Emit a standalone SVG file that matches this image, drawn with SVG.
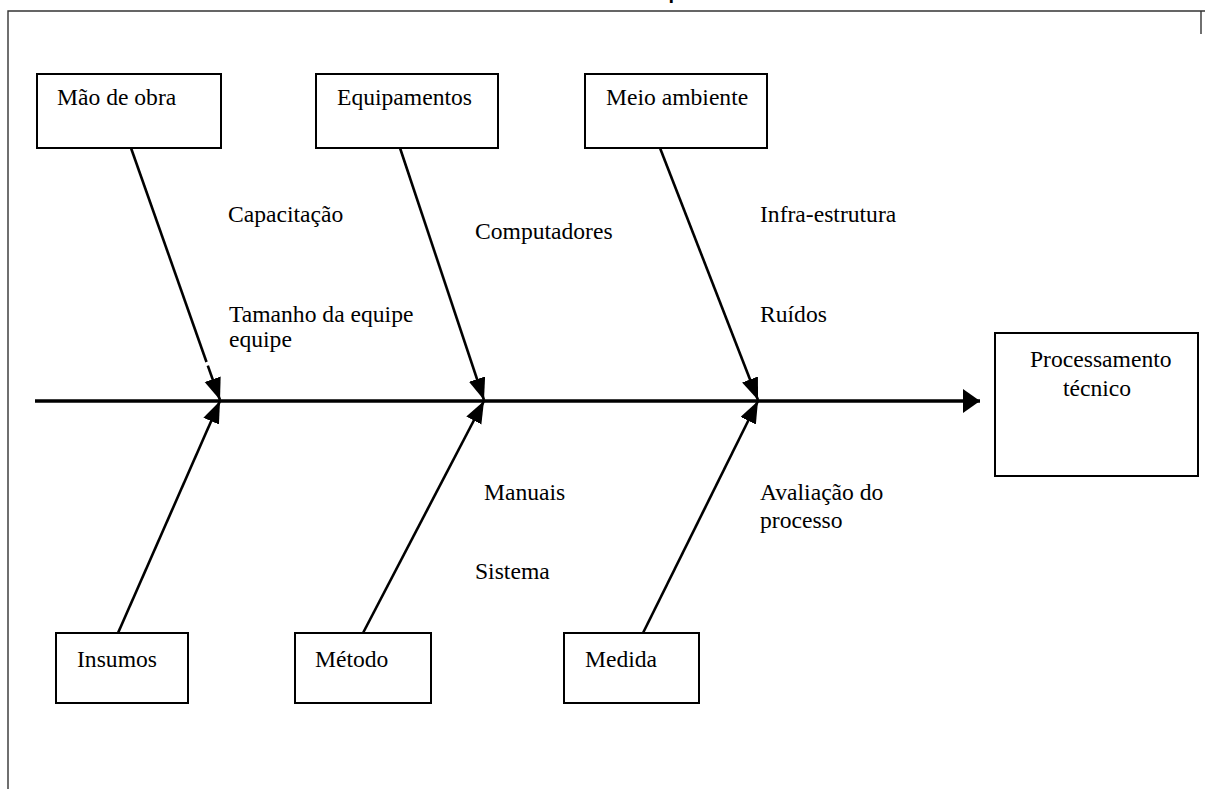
<svg xmlns="http://www.w3.org/2000/svg" width="1205" height="789" viewBox="0 0 1205 789">
  <style>
    .box { fill: #fff; stroke: #000; stroke-width: 2; }
    .lbl { font-family: "Liberation Serif", "Times New Roman", serif; font-size: 23.6px; fill: #000; }
    .bone { stroke: #000; stroke-width: 2.6; fill: none; }
    .spine { stroke: #000; stroke-width: 3.4; fill: none; }
    .frame { stroke: #333; stroke-width: 1.4; fill: none; }
    .title { font-family: "Liberation Sans", Arial, sans-serif; font-weight: bold; font-size: 20px; fill: #000; }
  </style>
  <defs>
    <marker id="head" markerUnits="userSpaceOnUse" markerWidth="24" markerHeight="18" refX="22" refY="8.5" orient="auto">
      <path d="M0,0 L22,8.5 L0,17 z" fill="#000"/>
    </marker>
    <marker id="headBig" markerUnits="userSpaceOnUse" markerWidth="18" markerHeight="26" refX="17" refY="12" orient="auto">
      <path d="M0,0 L17,12 L0,24 z" fill="#000"/>
    </marker>
  </defs>

  <rect width="1205" height="789" fill="#fff"/>

  <!-- page frame and clipped heading -->
  <g id="frame">
    <text class="title" x="668.5" y="-1.3">p</text>
    <path class="frame" d="M8,789 V11 H1205"/>
    <path class="frame" d="M1201,11 V34"/>
  </g>

  <!-- spine and bones -->
  <g id="connectors">
    <line class="spine" x1="35" y1="401" x2="980" y2="401" marker-end="url(#headBig)"/>
    <line class="bone" x1="131" y1="148" x2="206.5" y2="362"/>
    <line class="bone" x1="207.8" y1="365.6" x2="220" y2="400" marker-end="url(#head)"/>
    <line class="bone" x1="400" y1="148" x2="484" y2="400" marker-end="url(#head)"/>
    <line class="bone" x1="660" y1="148" x2="758" y2="400" marker-end="url(#head)"/>
    <line class="bone" x1="118" y1="633" x2="220" y2="401" marker-end="url(#head)"/>
    <line class="bone" x1="363" y1="633" x2="484" y2="401" marker-end="url(#head)"/>
    <line class="bone" x1="643" y1="633" x2="758" y2="401" marker-end="url(#head)"/>
  </g>

  <!-- cause categories -->
  <g id="mao-de-obra">
    <rect class="box" x="37" y="74" width="184" height="74"/>
    <text class="lbl" x="57" y="105">Mão de obra</text>
  </g>
  <g id="equipamentos">
    <rect class="box" x="316" y="74" width="182" height="74"/>
    <text class="lbl" x="337" y="105">Equipamentos</text>
  </g>
  <g id="meio-ambiente">
    <rect class="box" x="585" y="74" width="182" height="74"/>
    <text class="lbl" x="606" y="105">Meio ambiente</text>
  </g>
  <g id="insumos">
    <rect class="box" x="56" y="633" width="132" height="70"/>
    <text class="lbl" x="77" y="667">Insumos</text>
  </g>
  <g id="metodo">
    <rect class="box" x="295" y="633" width="136" height="70"/>
    <text class="lbl" x="315" y="667">Método</text>
  </g>
  <g id="medida">
    <rect class="box" x="564" y="633" width="135" height="70"/>
    <text class="lbl" x="585" y="667">Medida</text>
  </g>

  <!-- effect -->
  <g id="processamento-tecnico">
    <rect class="box" x="995" y="333" width="203" height="143"/>
    <text class="lbl" x="1030" y="367">Processamento</text>
    <text class="lbl" x="1063" y="396">técnico</text>
  </g>

  <!-- sub-causes -->
  <g id="sub-causes">
    <text class="lbl" x="228" y="222">Capacitação</text>
    <text class="lbl" x="229" y="322">Tamanho da equipe</text>
    <text class="lbl" x="229" y="347">equipe</text>
    <text class="lbl" x="475" y="239">Computadores</text>
    <text class="lbl" x="760" y="222">Infra-estrutura</text>
    <text class="lbl" x="760" y="322">Ruídos</text>
    <text class="lbl" x="484" y="500">Manuais</text>
    <text class="lbl" x="475" y="579">Sistema</text>
    <text class="lbl" x="760" y="500">Avaliação do</text>
    <text class="lbl" x="760" y="528">processo</text>
  </g>
</svg>
